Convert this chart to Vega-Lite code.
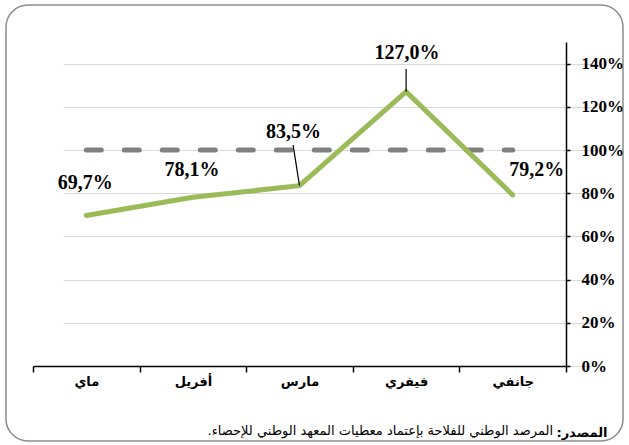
{
  "$schema": "https://vega.github.io/schema/vega-lite/v6.json",
  "width": 617,
  "height": 436,
  "autosize": {"type": "none"},
  "padding": {"left": 6, "top": 5, "right": 6, "bottom": 4},
  "background": "white",
  "config": {
    "view": {"stroke": "#8c8c8c", "strokeWidth": 1.5, "cornerRadius": 22}
  },
  "title": {
    "text": "المرصد الوطني للفلاحة بإعتماد معطيات المعهد الوطني للإحصاء.\u200f",
    "orient": "bottom",
    "anchor": "end",
    "frame": "group",
    "baseline": "middle",
    "offset": -10,
    "dx": -70,
    "font": "DejaVu Sans",
    "fontSize": 13,
    "fontWeight": "normal",
    "color": "black"
  },
  "datasets": {
    "months": [
      {"month": "ماي", "value": 69.7, "ref": 100, "label": "69,7%"},
      {"month": "أفريل", "value": 78.1, "ref": 100, "label": "78,1%"},
      {"month": "مارس", "value": 83.5, "ref": 100, "label": "83,5%"},
      {"month": "فيفري", "value": 127.0, "ref": 100, "label": "127,0%"},
      {"month": "جانفي", "value": 79.2, "ref": 100, "label": "79,2%"}
    ]
  },
  "data": {"name": "months"},
  "encoding": {
    "x": {
      "field": "month",
      "type": "nominal",
      "bandPosition": 0.5,
      "sort": ["ماي", "أفريل", "مارس", "فيفري", "جانفي"],
      "scale": {"type": "band", "range": [27, 560], "paddingInner": 0, "paddingOuter": 0},
      "axis": {
        "orient": "bottom",
        "offset": -75,
        "tickBand": "extent",
        "grid": false,
        "domainColor": "black",
        "domainWidth": 1.5,
        "tickColor": "black",
        "tickWidth": 1.5,
        "tickSize": 6,
        "labelAngle": 0,
        "labelPadding": 3,
        "labelFont": "DejaVu Sans",
        "labelFontWeight": "bold",
        "labelFontSize": 13,
        "labelColor": "black",
        "title": "المصدر:\u200f",
        "titleX": 601,
        "titleY": 66,
        "titleAlign": "right",
        "titleBaseline": "middle",
        "titleFont": "DejaVu Sans",
        "titleFontSize": 13,
        "titleFontWeight": "bold",
        "titleColor": "black"
      }
    },
    "y": {
      "field": "value",
      "type": "quantitative",
      "scale": {"domain": [0, 150], "range": [361, 37], "nice": false, "zero": true},
      "axis": {
        "orient": "right",
        "offset": -57,
        "values": [0, 20, 40, 60, 80, 100, 120, 140],
        "labelExpr": "datum.value + '%'",
        "grid": true,
        "gridColor": "#d9d9d9",
        "gridWidth": 1.2,
        "domainColor": "black",
        "domainWidth": 1.5,
        "tickColor": "black",
        "tickWidth": 1.5,
        "tickSize": 4,
        "labelPadding": 11,
        "labelFont": "Liberation Serif",
        "labelFontWeight": "bold",
        "labelFontSize": 17,
        "labelColor": "black",
        "title": null
      }
    }
  },
  "layer": [
    {
      "mark": {"type": "line", "color": "#808080", "strokeWidth": 5, "strokeDash": [15, 23], "strokeCap": "round"},
      "encoding": {
        "y": {
          "field": "ref",
          "type": "quantitative",
          "scale": {"domain": [0, 150], "range": [361, 37], "nice": false, "zero": true},
          "axis": {
            "orient": "right",
            "offset": -57,
            "values": [0, 20, 40, 60, 80, 100, 120, 140],
            "labelExpr": "datum.value + '%'",
            "grid": true,
            "gridColor": "#d9d9d9",
            "gridWidth": 1.2,
            "domainColor": "black",
            "domainWidth": 1.5,
            "tickColor": "black",
            "tickWidth": 1.5,
            "tickSize": 4,
            "labelPadding": 11,
            "labelFont": "Liberation Serif",
            "labelFontWeight": "bold",
            "labelFontSize": 17,
            "labelColor": "black",
            "title": null
          }
        }
      }
    },
    {
      "mark": {"type": "line", "color": "#9BBB59", "strokeWidth": 5, "strokeCap": "round", "strokeJoin": "miter"}
    },
    {
      "transform": [{"filter": "datum.month === 'مارس'"}],
      "mark": {"type": "rule", "color": "black", "strokeWidth": 1.2},
      "encoding": {
        "x2": {"datum": "مارس", "bandPosition": 0.44},
        "y2": {"datum": 102.3}
      }
    },
    {
      "transform": [{"filter": "datum.month === 'فيفري'"}],
      "mark": {"type": "rule", "color": "black", "strokeWidth": 1.2},
      "encoding": {
        "y2": {"datum": 137.5}
      }
    },
    {
      "transform": [{"filter": "datum.month === 'ماي'"}],
      "mark": {"type": "text", "font": "Liberation Serif", "fontWeight": "bold", "fontSize": 20, "baseline": "middle", "dx": -1, "dy": -32},
      "encoding": {"text": {"field": "label"}}
    },
    {
      "transform": [{"filter": "datum.month === 'أفريل'"}],
      "mark": {"type": "text", "font": "Liberation Serif", "fontWeight": "bold", "fontSize": 20, "baseline": "middle", "dx": -1, "dy": -27},
      "encoding": {"text": {"field": "label"}}
    },
    {
      "transform": [{"filter": "datum.month === 'مارس'"}],
      "mark": {"type": "text", "font": "Liberation Serif", "fontWeight": "bold", "fontSize": 20, "baseline": "middle", "dx": -6, "dy": -54},
      "encoding": {"text": {"field": "label"}}
    },
    {
      "transform": [{"filter": "datum.month === 'فيفري'"}],
      "mark": {"type": "text", "font": "Liberation Serif", "fontWeight": "bold", "fontSize": 20, "baseline": "middle", "dx": 1, "dy": -39},
      "encoding": {"text": {"field": "label"}}
    },
    {
      "transform": [{"filter": "datum.month === 'جانفي'"}],
      "mark": {"type": "text", "font": "Liberation Serif", "fontWeight": "bold", "fontSize": 20, "baseline": "middle", "dx": 24, "dy": -25},
      "encoding": {"text": {"field": "label"}}
    }
  ]
}
